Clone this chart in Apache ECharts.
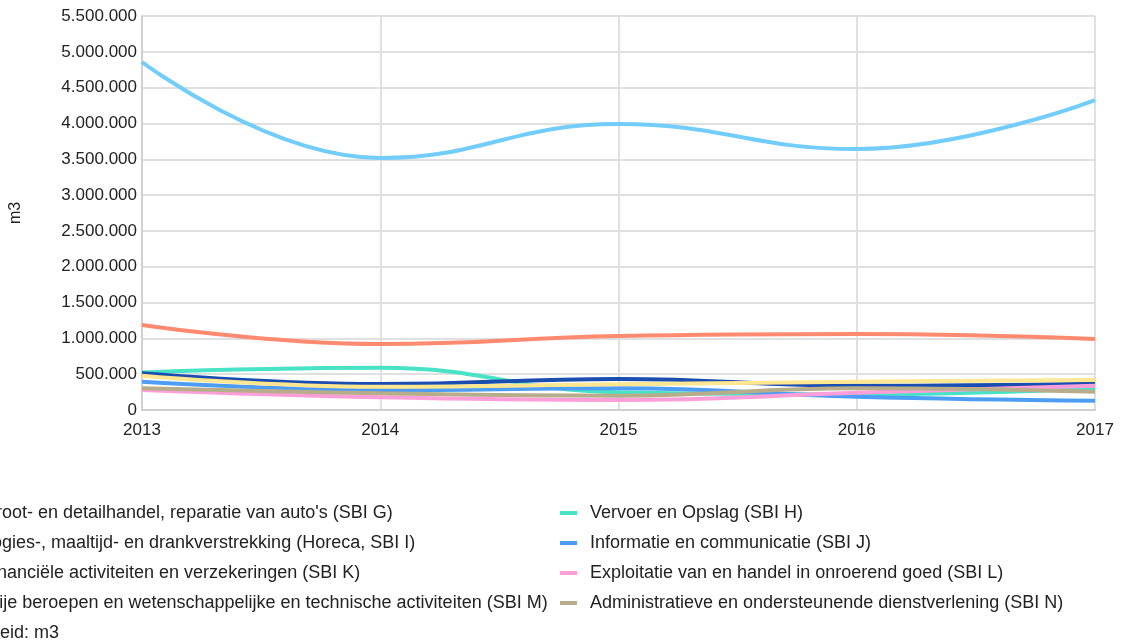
<!DOCTYPE html>
<html>
<head>
<meta charset="utf-8">
<script src="https://cdn.jsdelivr.net/npm/echarts@6/dist/echarts.min.js"></script>
<style>
  html, body { margin: 0; padding: 0; background: #fff; }
  #chart { width: 1122px; height: 641px; }
</style>
</head>
<body>
<div id="chart"></div>
<script>
const years = ['2013', '2014', '2015', '2016', '2017']

const names = [
  'Groot- en detailhandel, reparatie van auto\'s (SBI G)',
  'Vervoer en Opslag (SBI H)',
  'Logies-, maaltijd- en drankverstrekking (Horeca, SBI I)',
  'Informatie en communicatie (SBI J)',
  'Financiële activiteiten en verzekeringen (SBI K)',
  'Exploitatie van en handel in onroerend goed (SBI L)',
  'Vrije beroepen en wetenschappelijke en technische activiteiten (SBI M)',
  'Administratieve en ondersteunende dienstverlening (SBI N)'
]

const sbiG = [4858000, 3518000, 3992000, 3643000, 4327000]
const sbiH = [525000, 590000, 247000, 219000, 303000]
const sbiI = [1187000, 921000, 1033000, 1061000, 991000]
const sbiJ = [395000, 279000, 303000, 186000, 130000]
const sbiK = [512000, 363000, 433000, 339000, 368000]
const sbiL = [279000, 177000, 140000, 241000, 339000]
const sbiM = [479000, 325000, 359000, 395000, 419000]
const sbiN = [303000, 233000, 200000, 303000, 255000]

const values = [sbiG, sbiH, sbiI, sbiJ, sbiK, sbiL, sbiM, sbiN]
const colors = ['#72cdfa', '#48e3c6', '#ff8a70', '#4d9df5', '#1a4db0', '#ff9ed8', '#ffe690', '#b8ad8a']

const leftLegend = [names[0], names[2], names[4], names[6]]
const rightLegend = [names[1], names[3], names[5], names[7]]

const fmt = v => String(v).replace(/\B(?=(\d{3})+(?!\d))/g, '.')

const chart = echarts.init(document.getElementById('chart'))

const legendBase = {
  orient: 'vertical',
  top: 499,
  icon: 'rect',
  itemWidth: 17,
  itemHeight: 4,
  itemGap: 12,
  textStyle: {
    fontFamily: 'Liberation Sans, Arial, sans-serif',
    fontSize: 18,
    color: '#222',
    padding: [0, 0, 0, 8]
  }
}

const option = {
  animation: false,
  color: colors,
  grid: { left: 141, right: 27, top: 16, bottom: 231 },
  legend: [
    Object.assign({}, legendBase, { left: -53, data: leftLegend }),
    Object.assign({}, legendBase, { left: 555, data: rightLegend })
  ],
  graphic: [{
    type: 'text',
    left: -42,
    top: 624,
    style: {
      text: 'Eenheid: m3',
      font: '18px Liberation Sans, Arial, sans-serif',
      fill: '#222'
    }
  }],
  xAxis: {
    type: 'category',
    data: years,
    boundaryGap: false,
    axisLine: { lineStyle: { color: '#d0d0d0', width: 2 } },
    axisTick: { show: false },
    axisLabel: {
      fontFamily: 'Liberation Sans, Arial, sans-serif',
      fontSize: 17,
      color: '#222',
      margin: 12
    },
    splitLine: { show: true, lineStyle: { color: '#e0e0e0', width: 2 } }
  },
  yAxis: {
    type: 'value',
    min: 0,
    max: 5500000,
    interval: 500000,
    name: 'm3',
    nameLocation: 'middle',
    nameGap: 118,
    nameTextStyle: {
      fontFamily: 'Liberation Sans, Arial, sans-serif',
      fontSize: 16,
      color: '#222'
    },
    axisLine: { show: true, lineStyle: { color: '#d0d0d0', width: 2 } },
    axisTick: { show: false },
    axisLabel: {
      fontFamily: 'Liberation Sans, Arial, sans-serif',
      fontSize: 17,
      color: '#222',
      margin: 5,
      formatter: fmt
    },
    splitLine: { lineStyle: { color: '#e0e0e0', width: 2 } }
  },
  series: names.map((n, i) => ({
    name: n,
    type: 'line',
    data: values[i],
    smooth: 0.45,
    showSymbol: false,
    lineStyle: { width: 4, color: colors[i] },
    itemStyle: { color: colors[i] }
  }))
}

chart.setOption(option)
</script>
</body>
</html>
